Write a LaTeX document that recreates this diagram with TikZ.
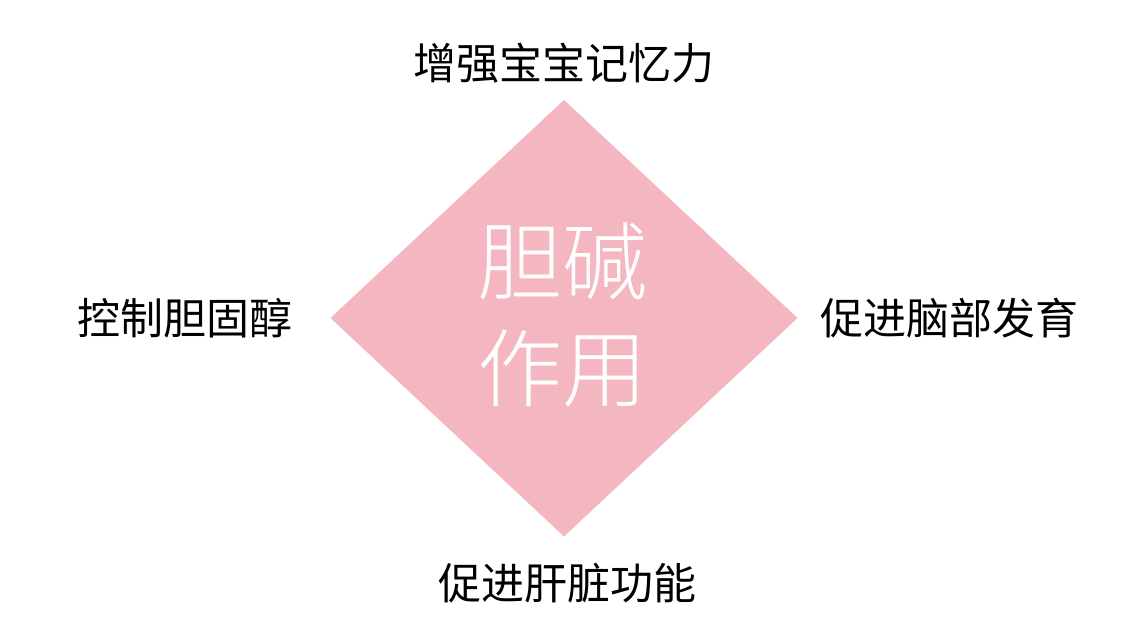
\documentclass[tikz,border=0pt]{standalone}
\usepackage{fontspec}
\newfontfamily\cjk{Noto Sans CJK SC}
\newfontfamily\cjklight{Noto Sans CJK SC Light}
\definecolor{diamondpink}{RGB}{244,182,192}
\begin{document}
\begin{tikzpicture}[x=1pt,y=-1pt,
  label/.style={font=\cjk\fontsize{43}{50}\selectfont, text=black, inner sep=0pt, anchor=center},
  centre/.style={font=\cjklight\fontsize{85}{107}\selectfont, text=white, align=center, inner sep=0pt}]
\useasboundingbox (0,0) rectangle (1136,639);
\fill[diamondpink] (564,100) -- (797.5,318) -- (564,536.5) -- (330.5,318) -- cycle;
\node[centre] (core) at (562.5,315) {胆碱\\作用};
\node[label] (top) at (564,63) {增强宝宝记忆力};
\node[label] (left) at (185,318.5) {控制胆固醇};
\node[label] (right) at (949.5,318.5) {促进脑部发育};
\node[label] (bottom) at (567.5,583) {促进肝脏功能};
\end{tikzpicture}
\end{document}
